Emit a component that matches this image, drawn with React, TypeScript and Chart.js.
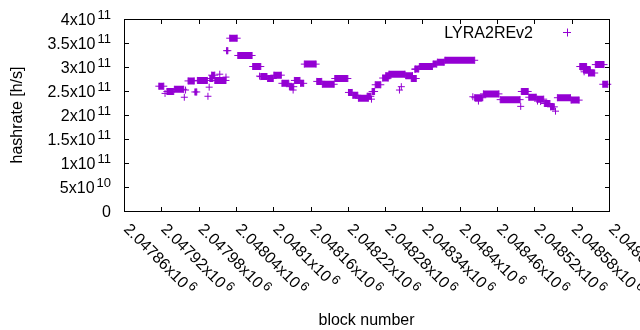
import React, { useEffect, useRef } from "react";
import { Chart, registerables } from "chart.js";

Chart.register(...registerables);

const SERIES_LABEL = "LYRA2REv2";
const X_TITLE = "block number";
const Y_TITLE = "hashrate [h/s]";

// Runs of consecutive blocks sharing one hashrate value: first block, last block, hashrate [h/s]
const runFirstBlock = [
  2047916, 2047926, 2047929, 2047941, 2047957, 2047959, 2047963, 2047974, 2047978, 2047995,
  2047997, 2047998, 2048001, 2048014, 2048006, 2048024, 2048025, 2048030, 2048043, 2048067,
  2048078, 2048080, 2048091, 2048101, 2048114, 2048126, 2048132, 2048134, 2048144, 2048150,
  2048170, 2048179, 2048199, 2048221, 2048228, 2048237, 2048251, 2048258, 2048259, 2048264,
  2048276, 2048281, 2048286, 2048303, 2048306, 2048313, 2048322, 2048328, 2048328, 2048335,
  2048357, 2048364, 2048376, 2048421, 2048424, 2048430, 2048438, 2048465, 2048498, 2048499,
  2048511, 2048524, 2048525, 2048530, 2048536, 2048546, 2048554, 2048557, 2048579, 2048593,
  2048599, 2048600, 2048607, 2048618, 2048630,
];
const runLastBlock = [
  2047924, 2047926, 2047940, 2047956, 2047957, 2047959, 2047973, 2047977, 2047994, 2047995,
  2047997, 2048003, 2048006, 2048014, 2048024, 2048024, 2048027, 2048042, 2048066, 2048080,
  2048078, 2048090, 2048100, 2048113, 2048125, 2048133, 2048132, 2048143, 2048149, 2048169,
  2048178, 2048198, 2048220, 2048227, 2048236, 2048253, 2048257, 2048258, 2048263, 2048273,
  2048285, 2048288, 2048312, 2048303, 2048306, 2048324, 2048330, 2048328, 2048334, 2048356,
  2048363, 2048375, 2048424, 2048421, 2048437, 2048430, 2048463, 2048497, 2048498, 2048510,
  2048523, 2048535, 2048525, 2048530, 2048545, 2048552, 2048554, 2048578, 2048592, 2048604,
  2048610, 2048600, 2048617, 2048632, 2048638,
];
const runHashrate = [
  2.6e11, 2.45e11, 2.49e11, 2.535e11, 2.37e11, 2.52e11, 2.71e11, 2.48e11, 2.72e11, 2.39e11,
  2.58e11, 2.76e11, 2.83e11, 2.85e11, 2.72e11, 2.79e11, 3.34e11, 3.6e11, 3.24e11, 3.01e11,
  2.81e11, 2.8e11, 2.76e11, 2.83e11, 2.66e11, 2.59e11, 2.52e11, 2.72e11, 2.66e11, 3.06e11,
  2.7e11, 2.64e11, 2.76e11, 2.47e11, 2.41e11, 2.35e11, 2.39e11, 2.33e11, 2.49e11, 2.63e11,
  2.77e11, 2.82e11, 2.85e11, 2.52e11, 2.59e11, 2.82e11, 2.76e11, 2.95e11, 2.96e11, 3.01e11,
  3.06e11, 3.1e11, 3.14e11, 2.38e11, 2.36e11, 2.29e11, 2.44e11, 2.32e11, 2.18e11, 2.49e11,
  2.37e11, 2.33e11, 2.29e11, 2.28e11, 2.24e11, 2.17e11, 2.08e11, 2.36e11, 2.31e11, 3.01e11,
  2.94e11, 2.9e11, 2.875e11, 3.05e11, 2.64e11,
];

const X_MIN = 2047860;
const X_MAX = 2048640;
const Y_MIN = 0;
const Y_MAX = 4e11;

const xTickValues = [
  2047860, 2047920, 2047980, 2048040, 2048100, 2048160, 2048220, 2048280, 2048340, 2048400,
  2048460, 2048520, 2048580, 2048640,
];
const xTickMantissas = [
  "2.04786", "2.04792", "2.04798", "2.04804", "2.0481", "2.04816", "2.04822", "2.04828",
  "2.04834", "2.0484", "2.04846", "2.04852", "2.04858", "2.04864",
];
const xTickExponents = ["6", "6", "6", "6", "6", "6", "6", "6", "6", "6", "6", "6", "6", "6"];

const yTickValues = [0, 5e10, 1e11, 1.5e11, 2e11, 2.5e11, 3e11, 3.5e11, 4e11];
const yTickMantissas = ["0", "5", "1", "1.5", "2", "2.5", "3", "3.5", "4"];
const yTickExponents = ["", "10", "11", "11", "11", "11", "11", "11", "11"];

const COLOR = "#9400D3";
const FAMILY = "'Liberation Sans', Arial, sans-serif";
const MAIN_FONT = `16px ${FAMILY}`;
const SUP_FONT = `13px ${FAMILY}`;

const axesPlugin = {
  id: "gnuplotAxes",
  afterDraw(chart: any) {
    const { ctx, chartArea, scales } = chart;
    const { left, right, top, bottom } = chartArea;
    const xs = scales.x;
    const ys = scales.y;
    ctx.save();
    ctx.strokeStyle = "#000";
    ctx.lineWidth = 1;
    ctx.strokeRect(left + 0.5, top + 0.5, right - left, bottom - top);

    const TL = 5;
    ctx.beginPath();
    yTickValues.forEach((v) => {
      const py = Math.round(ys.getPixelForValue(v)) + 0.5;
      if (py <= top + 1 || py >= bottom) return;
      ctx.moveTo(left, py);
      ctx.lineTo(left + TL, py);
      ctx.moveTo(right + 1, py);
      ctx.lineTo(right + 1 - TL, py);
    });
    xTickValues.forEach((v) => {
      const px = Math.round(xs.getPixelForValue(v)) + 0.5;
      if (px <= left + 1 || px >= right) return;
      ctx.moveTo(px, bottom + 1);
      ctx.lineTo(px, bottom + 1 - TL);
      ctx.moveTo(px, top);
      ctx.lineTo(px, top + TL);
    });
    ctx.stroke();

    ctx.fillStyle = "#000";
    ctx.textBaseline = "alphabetic";

    // y tick labels
    const R = 111;
    yTickValues.forEach((v, i) => {
      const py = ys.getPixelForValue(v);
      const base = py + 5.5;
      const exp = yTickExponents[i];
      if (exp) {
        ctx.font = SUP_FONT;
        const w2 = ctx.measureText(exp).width;
        ctx.textAlign = "left";
        ctx.fillText(exp, R - w2, base - 5.5);
        ctx.font = MAIN_FONT;
        ctx.textAlign = "right";
        ctx.fillText(yTickMantissas[i] + "x10", R - w2 - 2, base);
      } else {
        ctx.font = MAIN_FONT;
        ctx.textAlign = "right";
        ctx.fillText(yTickMantissas[i], R, base);
      }
    });

    // x tick labels (rotated 45 degrees clockwise)
    xTickValues.forEach((v, i) => {
      const px = xs.getPixelForValue(v);
      ctx.save();
      ctx.translate(px - 1, 230);
      ctx.rotate(Math.PI / 4);
      ctx.textAlign = "left";
      ctx.font = MAIN_FONT;
      const t = xTickMantissas[i] + "x10";
      ctx.fillText(t, 0, 0);
      const w = ctx.measureText(t).width;
      ctx.font = SUP_FONT;
      ctx.fillText(xTickExponents[i], w + 2, -5.5);
      ctx.restore();
    });

    // axis titles
    ctx.font = MAIN_FONT;
    ctx.textAlign = "center";
    ctx.fillText(X_TITLE, (left + right) / 2, 325);
    ctx.save();
    ctx.translate(22, (top + bottom) / 2);
    ctx.rotate(-Math.PI / 2);
    ctx.fillText(Y_TITLE, 0, 0);
    ctx.restore();

    // legend (gnuplot style key: text then sample)
    const ds = chart.data.datasets[0];
    ctx.textAlign = "right";
    ctx.fillText(ds.label, 533, 37.5);
    ctx.strokeStyle = ds.pointBorderColor;
    ctx.lineWidth = 1;
    ctx.beginPath();
    ctx.moveTo(563, 32.5);
    ctx.lineTo(571, 32.5);
    ctx.moveTo(567.5, 28.5);
    ctx.lineTo(567.5, 36.5);
    ctx.stroke();
    ctx.restore();
  },
};

export default function App() {
  const canvasRef = useRef<HTMLCanvasElement | null>(null);

  useEffect(() => {
    const points: { x: number; y: number | null }[] = [];
    for (let i = 0; i < runFirstBlock.length; i++) {
      points.push({ x: runFirstBlock[i], y: runHashrate[i] });
      if (runLastBlock[i] !== runFirstBlock[i]) {
        points.push({ x: runLastBlock[i], y: runHashrate[i] });
      }
      points.push({ x: runLastBlock[i], y: null });
    }

    const chart = new Chart(canvasRef.current as HTMLCanvasElement, {
      type: "scatter",
      data: {
        datasets: [
          {
            label: SERIES_LABEL,
            data: points as any,
            showLine: true,
            spanGaps: false,
            borderColor: COLOR,
            backgroundColor: COLOR,
            borderWidth: 7,
            borderCapStyle: "butt",
            tension: 0,
            pointStyle: "cross",
            pointRadius: 3.5,
            pointHoverRadius: 3.5,
            pointBorderWidth: 1,
            pointBorderColor: COLOR,
            pointBackgroundColor: COLOR,
            clip: 10,
          } as any,
        ],
      },
      options: {
        animation: false,
        responsive: false,
        devicePixelRatio: 1,
        events: [],
        layout: { padding: { left: 124, top: 19, right: 31, bottom: 119 } },
        scales: {
          x: { type: "linear", min: X_MIN, max: X_MAX, display: false },
          y: { type: "linear", min: Y_MIN, max: Y_MAX, display: false },
        },
        plugins: {
          legend: { display: false },
          tooltip: { enabled: false },
        },
      },
      plugins: [axesPlugin],
    });
    return () => chart.destroy();
  }, []);

  return (
    <div style={{ position: "fixed", left: 0, top: 0, width: 640, height: 330, background: "#fff" }}>
      <canvas ref={canvasRef} width={640} height={330} style={{ display: "block", width: 640, height: 330 }} />
    </div>
  );
}
